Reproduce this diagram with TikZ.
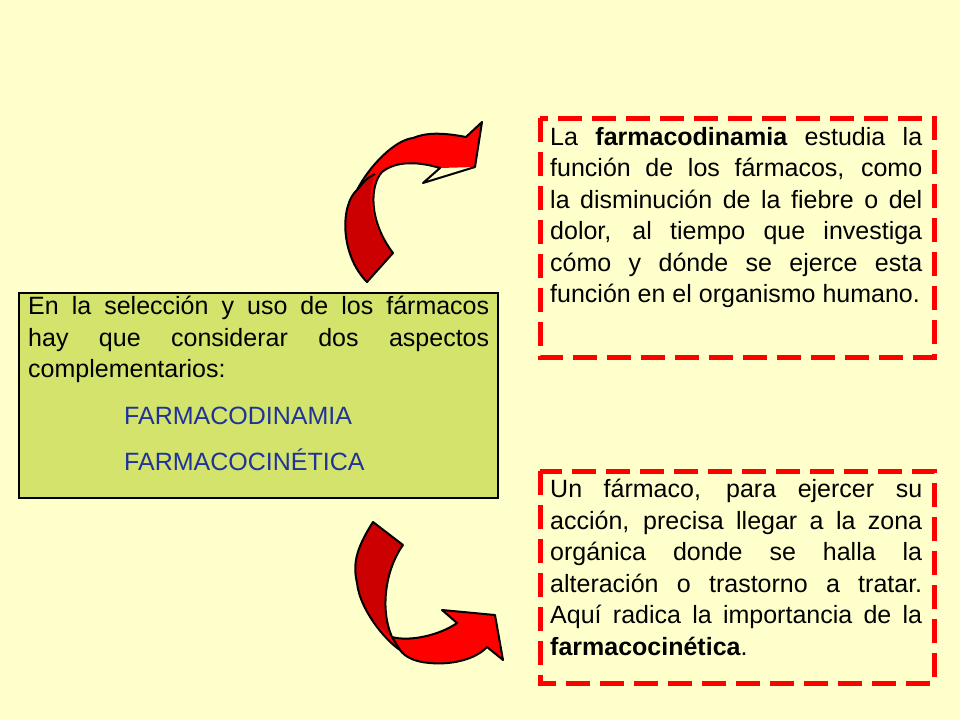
\documentclass[tikz,border=0pt]{standalone}
\usepackage{fontspec}
\setmainfont{Liberation Sans}
\hyphenpenalty=10000
\exhyphenpenalty=10000
\begin{document}
\begin{tikzpicture}[x=1pt,y=-1pt,
  txt/.style={inner sep=0pt,anchor=north west,align=justify,font=\fontsize{25}{31.5}\selectfont},
  dbox/.style={draw=red,line width=5pt,dash pattern=on 24pt off 10pt},
  arr/.style={draw=black,line width=2pt,line join=round}]
\fill[fill={rgb,255:red,255;green,255;blue,204}] (0,0) rectangle (960,720);
\useasboundingbox (0,0) rectangle (960,720);
% left box
\node[draw=black,line width=1.5pt,fill={rgb,255:red,212;green,227;blue,108},minimum width=479pt,minimum height=205pt,anchor=north west,inner sep=0pt] (L) at (18,292) {};
\node[txt,text width=461pt] (Lt) at (28,296) {En la selección y uso de los fármacos hay que considerar dos aspectos complementarios:\par
\vspace{15pt}\hspace*{96pt}\textcolor[rgb]{0.12,0.2,0.6}{FARMACODINAMIA}\par
\vspace{15pt}\hspace*{96pt}\textcolor[rgb]{0.12,0.2,0.6}{FARMACOCINÉTICA}};
% right boxes
\draw[dbox] (540,118) rectangle (934,357);
\draw[dbox] (540,471) rectangle (934,683);
\node[txt,text width=372pt] (A) at (550,127) {La \textbf{farmacodinamia} estudia la función de los fármacos, como la disminución de la fiebre o del dolor, al tiempo que investiga cómo y dónde se ejerce esta función en el organismo humano.};
\node[txt,text width=372pt] (B) at (550,479) {Un fármaco, para ejercer su acción, precisa llegar a la zona orgánica donde se halla la alteración o trastorno a tratar. Aquí radica la importancia de la \textbf{farmacocinética}.};
% top arrow
\fill[red] (367,282) .. controls (340,255) and (340,205) .. (357,190) .. controls (370,165) and (395,140) .. (413,138) .. controls (425,133) and (440,132) .. (466,137) -- (482,122) -- (475,167) -- (440,168) -- (423,183) -- (440,168) .. controls (420,162) and (397,160) .. (382,172) .. controls (370,185) and (368,220) .. (393,253) -- cycle;
\fill[red!80!black] (367,282) .. controls (340,255) and (340,205) .. (357,190) -- (375,174) .. controls (368,190) and (366,222) .. (393,253) -- cycle;
\draw[arr] (367,282) .. controls (340,255) and (340,205) .. (357,190) .. controls (370,165) and (395,140) .. (413,138) .. controls (425,133) and (440,132) .. (466,137) -- (482,122) -- (475,167) -- (423,183) -- (440,168) .. controls (420,162) and (397,160) .. (382,172) .. controls (370,185) and (368,220) .. (393,253) -- cycle;
\draw[arr] (357,190) .. controls (365,180) and (370,176) .. (375,174);
% bottom arrow
\fill[red] (373,522) -- (403,545) .. controls (385,570) and (380,610) .. (392,637) .. controls (410,642) and (440,635) .. (457,623) -- (442,610) -- (495,615) -- (503,660) -- (487,647) .. controls (475,660) and (450,665) .. (430,663) .. controls (415,662) and (405,657) .. (400,650) .. controls (385,640) and (360,610) .. (357,583) .. controls (353,565) and (355,550) .. (373,522) -- cycle;
\fill[red!80!black] (373,522) -- (403,545) .. controls (385,570) and (380,610) .. (392,637) -- (390,636) .. controls (370,620) and (357,600) .. (357,583) .. controls (353,565) and (355,550) .. (373,522) -- cycle;
\draw[arr] (373,522) -- (403,545) .. controls (385,570) and (380,610) .. (392,637) .. controls (410,642) and (440,635) .. (457,623) -- (442,610) -- (495,615) -- (503,660) -- (487,647) .. controls (475,660) and (450,665) .. (430,663) .. controls (415,662) and (405,657) .. (400,650) .. controls (385,640) and (360,610) .. (357,583) .. controls (353,565) and (355,550) .. (373,522) -- cycle;
\draw[arr] (392,637) -- (400,650);
\end{tikzpicture}
\end{document}
